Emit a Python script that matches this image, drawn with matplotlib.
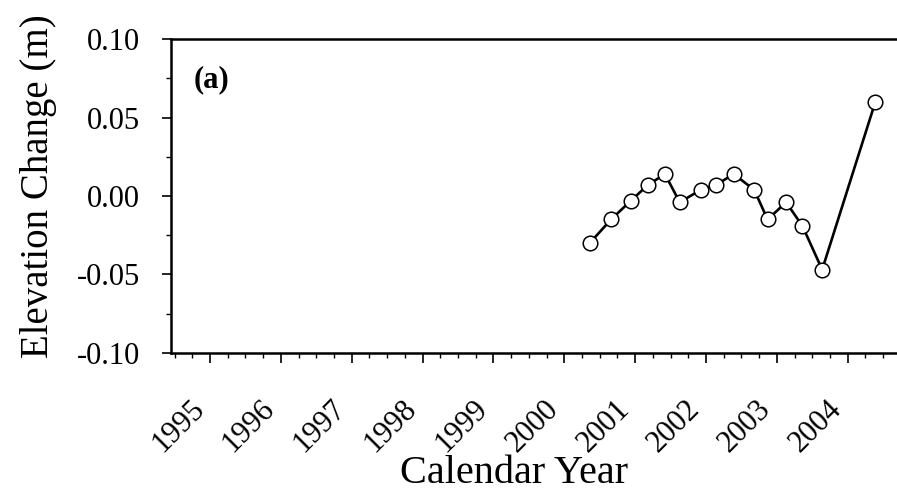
import matplotlib
matplotlib.use("Agg")
import matplotlib.pyplot as plt
from matplotlib.ticker import MultipleLocator, FixedLocator

# ------------------------------------------------------
# DATA
# ------------------------------------------------------

years = [2000.36, 2000.66, 2000.94, 2001.18, 2001.42, 2001.63, 2001.93, 2002.14,
         2002.39, 2002.68, 2002.87, 2003.13, 2003.36, 2003.64, 2004.39]
elev_change = [-0.030, -0.015, -0.003, 0.007, 0.014, -0.004, 0.004, 0.007,
               0.014, 0.004, -0.015, -0.004, -0.019, -0.047, 0.060]

year_ticks = list(range(1995, 2005))
year_labels = [str(y) for y in year_ticks]
y_ticks = [-0.10, -0.05, 0.00, 0.05, 0.10]
y_labels = ["-0.10", "-0.05", "0.00", "0.05", "0.10"]

# ------------------------------------------------------
# PLOT
# ------------------------------------------------------

plt.rcParams["font.family"] = ["Liberation Serif", "DejaVu Serif"]

fig = plt.figure(figsize=(8.97, 5.01), dpi=100)
ax = fig.add_axes([0.191, 0.296, 0.8725, 0.6256])

ax.plot(years, elev_change, color="black", lw=1.9,
        marker="o", ms=10.5, mfc="white", mec="black", mew=1.1, zorder=3)

ax.set_xlim(1994.454, 2005.5)
ax.set_ylim(-0.10, 0.10)

ax.xaxis.set_major_locator(FixedLocator(year_ticks))
ax.set_xticklabels(year_labels, rotation=45, ha="right")
ax.xaxis.set_minor_locator(MultipleLocator(0.25))
ax.set_yticks(y_ticks)
ax.set_yticklabels(y_labels)
ax.yaxis.set_minor_locator(MultipleLocator(0.025))

ax.tick_params(axis="x", which="major", direction="out", length=7.2, width=1.2,
               labelsize=22, pad=23)
ax.tick_params(axis="x", which="minor", direction="out", length=3.6, width=1.0)
ax.tick_params(axis="y", which="major", direction="out", length=6.5, width=1.2,
               labelsize=22, pad=16)
ax.tick_params(axis="y", which="minor", direction="out", length=3.6, width=1.0)

for side in ["left", "bottom", "top"]:
    ax.spines[side].set_linewidth(1.8)
ax.spines["right"].set_visible(False)

ax.set_xlabel("Calendar Year", fontsize=29)
ax.xaxis.set_label_coords(0.438, -0.325)
ax.set_ylabel("Elevation Change (m)", fontsize=28)
ax.yaxis.set_label_coords(-0.146, 0.53)

ax.text(0.028, 0.87, "(a)", transform=ax.transAxes, fontsize=22,
        fontweight="bold", ha="left", va="center")

fig.savefig("out.png", dpi=100)
